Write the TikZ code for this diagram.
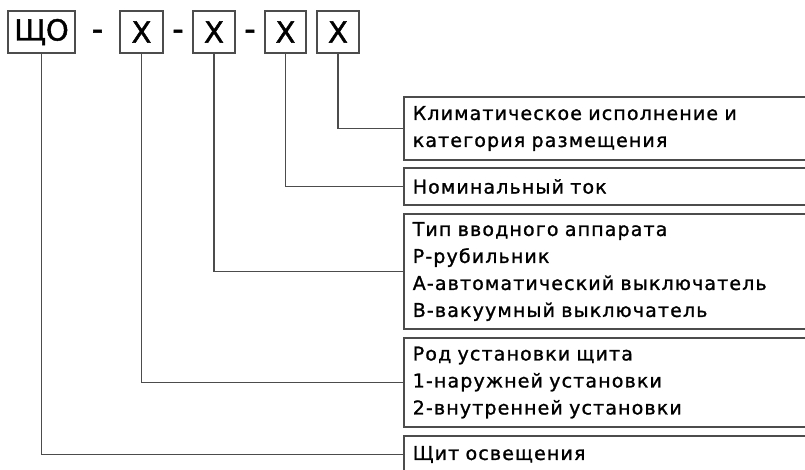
\documentclass[tikz,border=0pt]{standalone}
\usepackage{fontspec}
\setmainfont[LetterSpace=6]{DejaVu Sans}
\newfontfamily\headfont[LetterSpace=6,FakeBold=1.2]{DejaVu Sans}
\newfontfamily\codefont[FakeBold=1.5]{DejaVu Sans}
\usetikzlibrary{positioning}
\begin{document}
\begin{tikzpicture}[x=1pt, y=-1pt, font=\fontsize{19}{27}\selectfont]
        \tikzstyle{codebox}=[draw=black!70, line width=1.5pt, minimum height=42pt, inner sep=0pt, font=\codefont\fontsize{29}{29}\selectfont]
        \tikzstyle{descbox}=[draw=black!70, line width=1.5pt, anchor=west, align=left, text width=410pt, inner xsep=9pt, inner ysep=0pt]
        \tikzstyle{hyph}=[font=\codefont\fontsize{32}{32}\selectfont]
        \tikzstyle{lead}=[draw=black!70, line width=1.5pt]
        \clip (0,0) rectangle (805,469);
        \node[codebox, minimum width=67pt] (sho) at (41.5,32) {ЩО};
        \node[codebox, minimum width=43pt] (xa)  at (141.5,32) {X};
        \node[codebox, minimum width=42pt] (xb)  at (214,32)   {X};
        \node[codebox, minimum width=41pt] (xc)  at (285.5,32) {X};
        \node[codebox, minimum width=42pt] (xd)  at (338,32)   {X};
        \node[hyph] (da) at (97.5,35)  {-};
        \node[hyph] (db) at (178,35)   {-};
        \node[hyph] (dc) at (250,35)   {-};
        \node[descbox, minimum height=63pt]  (clim)  at (403,128.5) {\headfont Климатическое исполнение и\\\headfont категория размещения};
        \node[descbox, minimum height=37pt]  (nom)   at (403,186.5) {\headfont Номинальный ток};
        \node[descbox, minimum height=115pt] (app)   at (403,271.5) {\headfont Тип вводного аппарата\\Р-рубильник\\А-автоматический выключатель\\В-вакуумный выключатель};
        \node[descbox, minimum height=89pt]  (inst)  at (403,382.5) {\headfont Род установки щита\\1-наружней установки\\2-внутренней установки};
        \node[descbox, minimum height=37pt]  (light) at (403,454.5) {\headfont Щит освещения};
        \path[lead]
        (xd.south)  |- (clim.west)
        (xc.south)  |- (nom.west)
        (xb.south)  |- (app.west)
        (xa.south)  |- (inst.west)
        (sho.south) |- (light.west);
\end{tikzpicture}
\end{document}
